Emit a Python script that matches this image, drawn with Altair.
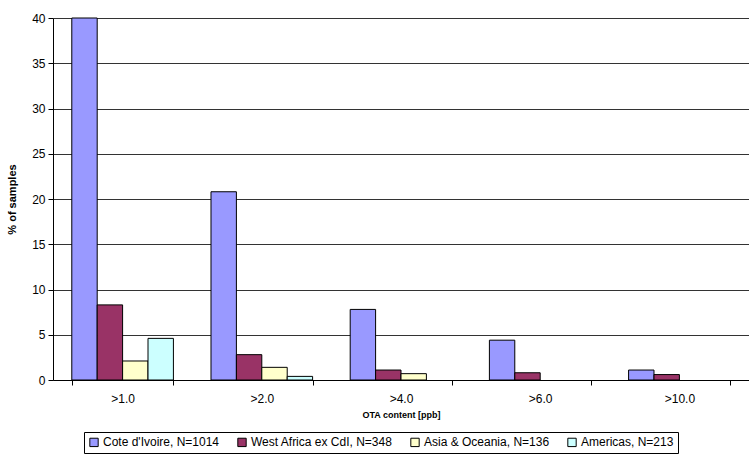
import altair as alt
import pandas as pd

categories = [">1.0", ">2.0", ">4.0", ">6.0", ">10.0"]
series = ["Cote d'Ivoire, N=1014", "West Africa ex CdI, N=348",
          "Asia & Oceania, N=136", "Americas, N=213"]
cote = [40.0, 20.8, 7.8, 4.4, 1.1]
west = [8.3, 2.8, 1.1, 0.8, 0.6]
asia = [2.1, 1.4, 0.7, 0.0, 0.0]
americas = [4.6, 0.4, 0.0, 0.0, 0.0]
colors = ["#9999FF", "#993366", "#FFFFCC", "#CCFFFF"]

rows = []
for s, vals in zip(series, [cote, west, asia, americas]):
    for c, v in zip(categories, vals):
        rows.append({"cat": c, "series": s, "value": v})
df = pd.DataFrame(rows)

font = "Liberation Sans"

chart = alt.Chart(df).transform_filter(
    alt.datum.value > 0
).mark_bar(stroke="black", strokeWidth=1).encode(
    x=alt.X("cat:N", sort=categories, title="OTA content [ppb]",
            scale=alt.Scale(domain=categories, paddingInner=0.27, paddingOuter=0.135),
            axis=alt.Axis(labelAngle=0, tickBand="extent", labelFontSize=12,
                          labelColor="black", labelFont=font, labelPadding=8,
                          titleFont=font, titleFontSize=9, titleFontWeight="bold",
                          titleColor="black", titlePadding=6,
                          domainColor="black", tickColor="black", tickSize=5)),
    xOffset=alt.XOffset("series:N", sort=series, scale=alt.Scale(domain=series)),
    y=alt.Y("value:Q", title="% of samples",
            scale=alt.Scale(domain=[0, 40], nice=False),
            axis=alt.Axis(values=[0, 5, 10, 15, 20, 25, 30, 35, 40],
                          labelFontSize=12, labelColor="black", labelFont=font,
                          labelPadding=3,
                          titleFont=font, titleFontSize=11, titleFontWeight="bold",
                          titleColor="black", titlePadding=14,
                          domainColor="black", tickColor="black", tickSize=5,
                          grid=True, gridColor="#333333", gridWidth=1)),
    color=alt.Color("series:N", sort=series,
                    scale=alt.Scale(domain=series, range=colors),
                    legend=alt.Legend(title=None, orient="none", direction="horizontal",
                                      legendX=31, legendY=414,
                                      symbolType="square", symbolSize=70,
                                      symbolStrokeColor="black", symbolStrokeWidth=1,
                                      labelFontSize=12, labelFont=font, labelColor="black",
                                      labelOffset=3,
                                      columnPadding=15, padding=4,
                                      strokeColor="black", fillColor="white")),
).properties(
    width=696, height=362,
    autosize=alt.AutoSizeParams(type="none"),
    padding={"left": 53, "top": 18, "right": 0, "bottom": 75},
).configure_view(stroke=None).configure_legend(
    symbolOpacity=1
)

chart.save("out.html", embed_options={"renderer": "svg", "actions": False})
